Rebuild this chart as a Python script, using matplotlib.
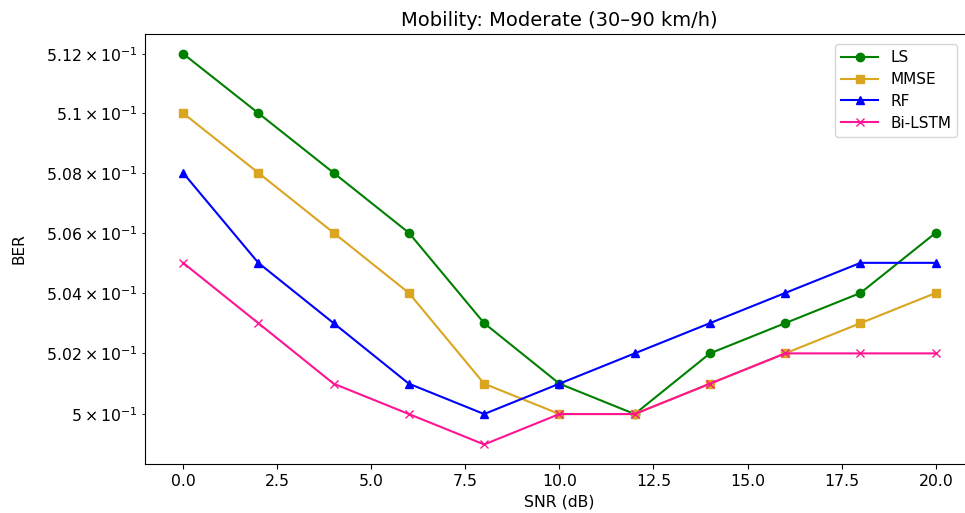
import numpy as np
import matplotlib.pyplot as plt

snr = [0, 2, 4, 6, 8, 10, 12, 14, 16, 18, 20]
ber_ls = [0.512, 0.510, 0.508, 0.506, 0.503, 0.501, 0.500, 0.502, 0.503, 0.504, 0.506]
ber_mmse = [0.510, 0.508, 0.506, 0.504, 0.501, 0.500, 0.500, 0.501, 0.502, 0.503, 0.504]
ber_rf = [0.508, 0.505, 0.503, 0.501, 0.500, 0.501, 0.502, 0.503, 0.504, 0.505, 0.505]
ber_bilstm = [0.505, 0.503, 0.501, 0.500, 0.499, 0.500, 0.500, 0.501, 0.502, 0.502, 0.502]

fig = plt.figure(figsize=(9.65, 5.13), dpi=100)
# axes run a bit past the right edge, like the cropped original
ax = fig.add_axes([0.1507, 0.0955, 0.858, 0.838])

ax.semilogy(snr, ber_ls, marker="o", color="green", label="LS")
ax.semilogy(snr, ber_mmse, marker="s", color="goldenrod", label="MMSE")
ax.semilogy(snr, ber_rf, marker="^", color="blue", label="RF")
ax.semilogy(snr, ber_bilstm, marker="x", color="deeppink", label="Bi-LSTM")

ax.set_xlabel("SNR (dB)", fontsize=11.3)
ax.set_ylabel("BER", fontsize=11, labelpad=14)
ax.set_title("Mobility: Moderate (30–90 km/h)", fontsize=14)
ax.tick_params(axis="both", which="both", labelsize=11.3)
ax.legend(loc="upper right", bbox_to_anchor=(0.99, 0.995), handlelength=2.4,
          fontsize=11, labelspacing=0.45)

fig.savefig("out.png", dpi=100)
